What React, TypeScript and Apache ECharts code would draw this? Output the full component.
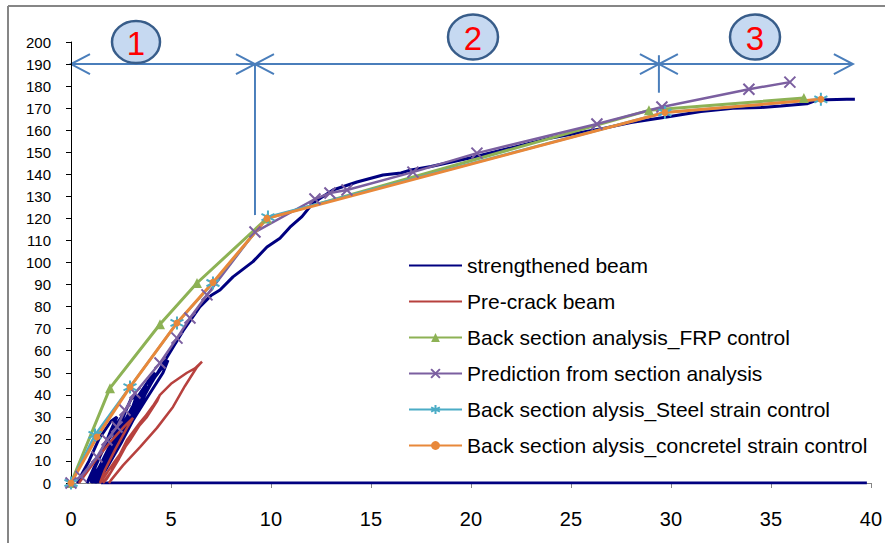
import React, { useEffect, useRef } from "react";
import * as echarts from "echarts";

// ---------- DATA ----------
const xTicks = [0, 5, 10, 15, 20, 25, 30, 35, 40];
const yTicks = [0, 10, 20, 30, 40, 50, 60, 70, 80, 90, 100, 110, 120, 130, 140, 150, 160, 170, 180, 190, 200];

const strengthenedBeam: [number, number][] = [
  // cyclic loading
  [0.3, 0], [0.9, 10], [1.4, 20], [2.0, 28], [2.3, 30], [2.0, 24], [1.6, 15], [1.1, 5], [0.8, 0],
  [1.2, 8], [1.7, 18], [2.3, 27], [2.7, 32], [2.5, 27], [2.0, 18], [1.4, 7], [1.0, 0],
  [1.3, 10], [1.9, 20], [2.6, 30], [3.0, 38], [3.3, 40], [3.1, 35], [2.6, 25], [1.9, 13], [1.3, 3], [1.1, 0],
  [1.5, 8], [2.1, 18], [2.7, 28], [3.3, 37], [3.8, 44], [3.6, 40], [3.0, 29], [2.3, 16], [1.6, 5], [1.2, 0],
  [1.6, 10], [2.2, 20], [2.8, 30], [3.4, 40], [4.0, 48], [4.2, 50], [3.9, 44], [3.3, 32], [2.5, 18], [1.8, 7], [1.3, 0],
  [1.8, 10], [2.4, 20], [3.0, 30], [3.6, 40], [4.2, 48], [4.7, 54], [4.85, 55.7], [4.6, 50], [3.9, 40], [3.2, 30], [2.4, 18], [1.7, 7], [1.4, 0],
  // final loading
  [1.9, 10], [2.5, 20], [3.2, 32], [4.0, 45], [4.8, 57], [5.6, 69], [6.45, 80], [7.0, 85], [7.45, 87.5],
  [8.1, 93.5], [9.1, 100.4], [9.8, 107], [10.45, 111], [10.95, 116], [11.55, 120.8], [12.1, 127],
  [13.1, 132.9], [14.3, 136.5], [15.6, 139.7], [16.5, 140.6], [17.0, 142], [18.0, 143.5], [20.0, 147.5],
  [22.0, 152], [24.0, 156.5], [26.45, 160.5], [28.0, 163.5], [29.8, 166], [31.5, 168.5], [33.1, 170],
  [34.5, 170.3], [35.5, 171], [36.8, 172], [37.3, 173.7], [38.8, 174], [39.2, 174],
];
const strengthenedBaseline: [number, number][] = [[1.5, 0], [39.8, 0]];

const preCrackBeam: [number, number][] = [
  [0.4, 0], [1.2, 10], [2.0, 19], [2.7, 26], [3.1, 29.5], [2.8, 25], [2.2, 15], [1.7, 6], [1.45, 0],
  [2.2, 10], [3.0, 20], [3.7, 30], [4.1, 35], [4.45, 40], [4.3, 37], [3.8, 30], [3.1, 22.7], [2.4, 11], [1.8, 2], [1.6, 0],
  [2.0, 5], [2.8, 19.5], [3.5, 28], [4.1, 34.5], [4.45, 40], [5.0, 45], [5.8, 50], [6.2, 52], [6.55, 55],
  [6.3, 52.6], [5.7, 44], [5.1, 34.5], [4.3, 25], [3.45, 16.3], [2.6, 8], [2.0, 1.3], [1.9, 0],
];

const frpControl: [number, number][] = [
  [0, 0], [1.95, 43], [4.45, 72], [6.3, 90.7], [9.8, 120], [28.9, 169], [36.65, 174.6],
];

const prediction: [number, number][] = [
  [0, 0], [0.5, 3], [1.3, 11.8], [1.8, 19.5], [2.3, 25.4], [2.7, 33], [3.2, 40.8], [4.45, 54.4],
  [5.3, 65.7], [5.95, 74.8], [6.8, 85.3], [9.2, 113.8], [12.2, 128.8], [12.95, 131.5], [13.8, 132.9],
  [17.1, 141], [20.3, 149.6], [26.3, 162.8], [29.55, 170.5], [33.9, 178.6], [35.95, 181.8],
];

const steelControl: [number, number][] = [
  [0, 0], [1.2, 21.8], [2.95, 43.5], [5.3, 72.6], [7.1, 90.7], [9.85, 120.6], [29.7, 168], [37.5, 174],
];

const concreteControl: [number, number][] = [
  [0, 0], [1.3, 20.9], [2.95, 43.5], [5.3, 72.6], [7.1, 91], [9.8, 120], [29.7, 168], [37.5, 174],
];

// annotation zones (x-data boundaries) and levels
const zoneBounds = [0, 9.2, 29.4, 39.1];
const zoneLabels = ["1", "2", "3"];
const arrowLevel = 190;

const seriesNames = [
  "strengthened beam",
  "Pre-crack beam",
  "Back section analysis_FRP control",
  "Prediction from section analysis",
  "Back section alysis_Steel strain control",
  "Back section alysis_concretel strain control",
];

const FONT = "'Liberation Sans', Arial, sans-serif";
const ARROW = "#4A7EBB";

export default function App() {
  const ref = useRef<HTMLDivElement>(null);

  useEffect(() => {
    if (!ref.current) return;
    const chart = echarts.init(ref.current, null, { renderer: "svg" });

    const xSym = "path://M0,0L10,10M10,0L0,10";
    const starSym = "path://M5,0L5,10M0.7,2.5L9.3,7.5M0.7,7.5L9.3,2.5";

    chart.setOption({
      animation: false,
      backgroundColor: "#ffffff",
      textStyle: { fontFamily: FONT },
      grid: { left: 71, right: 14, top: 42, bottom: 60 },
      xAxis: {
        type: "value",
        min: 0,
        max: 40,
        interval: 5,
        axisLine: { show: true, lineStyle: { color: "#868686", width: 1 } },
        axisTick: { show: true, length: 5, lineStyle: { color: "#868686" } },
        axisLabel: { fontSize: 20, color: "#000", margin: 26, fontFamily: FONT },
        splitLine: { show: false },
      },
      yAxis: {
        type: "value",
        min: 0,
        max: 200,
        interval: 10,
        axisLine: { show: true, lineStyle: { color: "#000", width: 1 } },
        axisTick: { show: true, length: 5, lineStyle: { color: "#000" } },
        axisLabel: { fontSize: 15, color: "#000", margin: 20, fontFamily: FONT },
        splitLine: { show: false },
      },
      legend: {
        data: seriesNames.map((n, i) => (i < 2 ? { name: n, itemStyle: { opacity: 0 } } : { name: n })),
        orient: "vertical",
        left: 403,
        top: 250,
        itemWidth: 53,
        itemHeight: 11,
        itemGap: 15,
        textStyle: { fontSize: 21, color: "#000", lineHeight: 21, fontFamily: FONT },
      },
      series: [
        {
          name: seriesNames[0], type: "line", data: strengthenedBeam, symbol: "none",
          lineStyle: { color: "#000080", width: 3 }, itemStyle: { color: "#000080" },
        },
        {
          name: seriesNames[0], type: "line", data: strengthenedBaseline, symbol: "none",
          lineStyle: { color: "#000080", width: 3 }, itemStyle: { color: "#000080" },
        },
        {
          name: seriesNames[1], type: "line", data: preCrackBeam, symbol: "none",
          lineStyle: { color: "#B7413E", width: 2.5 }, itemStyle: { color: "#B7413E" },
        },
        {
          name: seriesNames[2], type: "line", data: frpControl, symbol: "triangle", symbolSize: 10,
          lineStyle: { color: "#8DB255", width: 3 }, itemStyle: { color: "#8DB255" },
        },
        {
          name: seriesNames[3], type: "line", data: prediction, symbol: xSym, symbolSize: 11,
          lineStyle: { color: "#7B5FA0", width: 2.5 },
          itemStyle: { color: "#7B5FA0", borderColor: "#7B5FA0", borderWidth: 2 },
        },
        {
          name: seriesNames[4], type: "line", data: steelControl, symbol: starSym, symbolSize: 13,
          lineStyle: { color: "#4BACC6", width: 2.5 },
          itemStyle: { color: "#4BACC6", borderColor: "#4BACC6", borderWidth: 2 },
        },
        {
          name: seriesNames[5], type: "line", data: concreteControl, symbol: "circle", symbolSize: 7,
          lineStyle: { color: "#E8883A", width: 3 }, itemStyle: { color: "#E8883A" },
        },
      ],
    });

    const p = (x: number, y: number) => chart.convertToPixel({ gridIndex: 0 }, [x, y]) as number[];
    const g: any[] = [];
    const lineStyle = { stroke: ARROW, lineWidth: 2 };
    const headLen = 19;
    const headHalf = 10;

    // frame border (left + top)
    g.push({ type: "line", shape: { x1: 8, y1: 6, x2: 885, y2: 6 }, style: { stroke: "#868686", lineWidth: 2 }, silent: true });
    g.push({ type: "line", shape: { x1: 8, y1: 6, x2: 8, y2: 543 }, style: { stroke: "#868686", lineWidth: 2 }, silent: true });

    for (let i = 0; i < zoneBounds.length - 1; i++) {
      const a = p(zoneBounds[i], arrowLevel);
      const b = p(zoneBounds[i + 1], arrowLevel);
      g.push({ type: "line", shape: { x1: a[0], y1: a[1], x2: b[0], y2: b[1] }, style: lineStyle, silent: true });
      g.push({
        type: "polyline",
        shape: { points: [[a[0] + headLen, a[1] - headHalf], [a[0], a[1]], [a[0] + headLen, a[1] + headHalf]] },
        style: { ...lineStyle, fill: "none" }, silent: true,
      });
      g.push({
        type: "polyline",
        shape: { points: [[b[0] - headLen, b[1] - headHalf], [b[0], b[1]], [b[0] - headLen, b[1] + headHalf]] },
        style: { ...lineStyle, fill: "none" }, silent: true,
      });
    }
    // vertical markers
    const v1a = p(zoneBounds[1], arrowLevel);
    const v1b = p(zoneBounds[1], 121.5);
    g.push({ type: "line", shape: { x1: v1a[0], y1: v1a[1], x2: v1b[0], y2: v1b[1] }, style: lineStyle, silent: true });
    const v2a = p(zoneBounds[2], 194);
    const v2b = p(zoneBounds[2], 177);
    g.push({ type: "line", shape: { x1: v2a[0], y1: v2a[1], x2: v2b[0], y2: v2b[1] }, style: lineStyle, silent: true });

    // numbered circles
    const circles = [
      { cx: 136, cy: 42, rx: 24, ry: 21 },
      { cx: 473, cy: 37, rx: 25, ry: 22.5 },
      { cx: 755, cy: 37, rx: 25, ry: 22.5 },
    ];
    circles.forEach((c, i) => {
      g.push({
        type: "ellipse", shape: c,
        style: { fill: "#C6D9F1", stroke: "#385D8A", lineWidth: 2.5 }, silent: true, z: 10,
      });
      g.push({
        type: "text", x: c.cx, y: c.cy + 1, z: 11, silent: true,
        style: {
          text: zoneLabels[i], fill: "#FF0000", fontSize: 33, fontFamily: FONT,
          align: "center", verticalAlign: "middle",
        },
      });
    });

    chart.setOption({ graphic: g });

    return () => chart.dispose();
  }, []);

  return (
    <div
      ref={ref}
      style={{ position: "fixed", left: 0, top: 0, width: 885, height: 543, background: "#fff" }}
    />
  );
}
